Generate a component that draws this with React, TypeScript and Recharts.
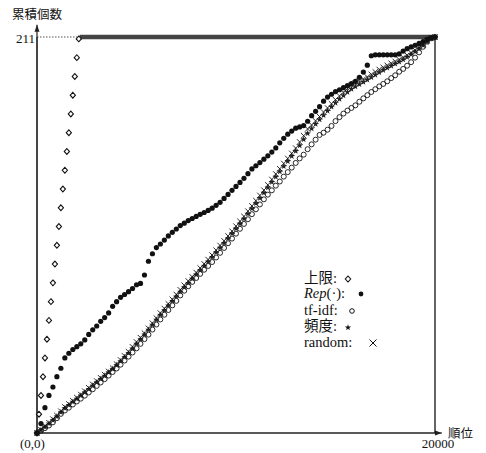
import React from 'react';
import { ComposedChart, Scatter, Line, XAxis, YAxis, ReferenceLine } from 'recharts';

const FONT = "'Liberation Serif', 'Noto Sans CJK JP', serif";

// sampled ranks (x)
const RANKS = [
  0, 200, 400, 600, 800, 1000, 1200, 1400, 1600, 1800,
  2000, 2200, 2400, 2600, 2800, 3000, 3200, 3400, 3600, 3800,
  4000, 4200, 4400, 4600, 4800, 5000, 5200, 5400, 5600, 5800,
  6000, 6200, 6400, 6600, 6800, 7000, 7200, 7400, 7600, 7800,
  8000, 8200, 8400, 8600, 8800, 9000, 9200, 9400, 9600, 9800,
  10000, 10200, 10400, 10600, 10800, 11000, 11200, 11400, 11600, 11800,
  12000, 12200, 12400, 12600, 12800, 13000, 13200, 13400, 13600, 13800,
  14000, 14200, 14400, 14600, 14800, 15000, 15200, 15400, 15600, 15800,
  16000, 16200, 16400, 16600, 16800, 17000, 17200, 17400, 17600, 17800,
  18000, 18200, 18400, 18600, 18800, 19000, 19200, 19400, 19600, 19800,
  20000,
];

const REP = [
  0, 5, 13.5, 20, 24.5, 30, 34.5, 40, 42.5, 44.5,
  46, 47.5, 49.6, 52.5, 55, 57, 59.5, 61.5, 64, 67.5,
  70, 72.3, 73.8, 75.3, 77, 79, 79.7, 84.2, 91.5, 95.5,
  98.8, 100.7, 102.8, 105, 106.9, 108.7, 110.5, 111.8, 113.2, 114.3,
  115.4, 116.5, 117.5, 118.6, 119.8, 121.3, 122.9, 125, 127.1, 129.3,
  131.4, 133.5, 135.7, 138.2, 140.7, 142.4, 144.1, 145.9, 147.7, 149.7,
  151.9, 154.6, 157, 159.2, 160.9, 162.4, 163.1, 163.8, 166.1, 169.1,
  171.4, 173.9, 176.8, 179, 180.5, 181.9, 182.9, 184, 185.1, 186.2,
  187.4, 189.5, 192.3, 196, 201, 201.5, 201.5, 201.5, 201.5, 201.5,
  201.5, 202, 203.5, 204.8, 205.7, 206.6, 207.6, 208.6, 209.7, 210.6,
  211,
];

const TFIDF = [
  0, 1.2, 2.6, 4, 5.7, 7.9, 10.2, 12, 13.5, 15.2,
  16.8, 18.3, 19.9, 21.6, 23.3, 25.1, 26.9, 28.7, 30.6, 32.5,
  34.4, 36.4, 38.6, 40.7, 42.9, 45.1, 47.5, 50, 52.4, 55.1,
  57.8, 60.5, 63, 65.5, 68, 70.4, 73.3, 75.8, 78.2, 80.5,
  82.6, 84.8, 87, 89, 91.1, 93.5, 96, 98.6, 101.1, 103.6,
  106.2, 108.8, 111.4, 113.9, 116.6, 119.2, 121.8, 124.5, 127, 129.3,
  131.8, 134, 136.6, 139, 141.4, 143.9, 146.3, 148.3, 151.2, 153.8,
  156.3, 158.8, 160, 161.6, 163.6, 166.2, 168.3, 170.2, 171.8, 173.2,
  174.6, 176.5, 178.3, 180, 181.7, 183.2, 184.7, 186, 187.4, 189.1,
  190.6, 192.5, 194, 195.7, 197.6, 200, 202.8, 205.8, 208.5, 210.3,
  211,
];

const FREQ = [
  0, 1.5, 3.2, 5, 6.8, 8.8, 11, 13.2, 14.9, 16.6,
  18.2, 19.9, 21.6, 23.4, 25.2, 27, 28.8, 30.5, 32.3, 34.1,
  36.1, 38.2, 40.4, 42.6, 45, 47.5, 49.9, 52.4, 55, 57.6,
  60.3, 62.9, 65.4, 67.9, 70.3, 72.7, 75.2, 77.6, 79.9, 82.2,
  84.4, 86.7, 89, 91.3, 93.7, 96.2, 98.7, 101.2, 103.7, 106.3,
  108.9, 111.5, 114.1, 116.8, 119.6, 122.4, 125.2, 128, 130.8, 133.7,
  136.5, 139.3, 142.1, 144.8, 147.5, 150.2, 153.2, 156.4, 159.6, 162.2,
  164.6, 167, 169.3, 171.6, 173.8, 175.9, 177.9, 179.8, 181.6, 183.3,
  184.6, 185.8, 187, 188.2, 189.5, 190.8, 192.1, 193.3, 194.5, 195.6,
  196.7, 197.8, 199, 200.3, 201.7, 203.2, 204.8, 206.5, 208.4, 210.2,
  211,
];

const RANDOM = [
  0, 1.8, 3.6, 5.5, 7.4, 9.3, 11.6, 13.9, 15.5, 17.2,
  18.9, 20.5, 22.3, 24.1, 25.9, 27.7, 29.4, 31.1, 32.8, 34.6,
  36.7, 38.9, 41.1, 43.3, 45.9, 48.5, 50.8, 53.2, 55.8, 58.5,
  61.2, 63.9, 66.3, 68.8, 71.2, 73.8, 76.3, 78.7, 81, 83.2,
  85.5, 87.9, 90.1, 92.4, 94.8, 97.4, 99.9, 102.4, 105, 107.5,
  110.2, 112.8, 115.4, 118.2, 121, 123.8, 126.6, 129.4, 132.2, 135.1,
  138, 140.8, 143.6, 146.3, 149, 151.8, 155.1, 158.4, 162, 164.1,
  166.3, 168.6, 171, 173.2, 175.4, 177.6, 179.6, 181.6, 183.5, 185.3,
  186.4, 187.5, 188.6, 189.7, 191.1, 192.4, 193.7, 194.8, 195.9, 197,
  198, 199, 200.1, 201.3, 202.6, 204, 205.4, 207, 209, 210.5,
  211,
];

// upper bound (上限): rising part, then plateau at 211
const UB_RANKS = [0, 100, 200, 300, 400, 500, 600, 700, 800, 900, 1000, 1100, 1200, 1300, 1400, 1500, 1600, 1700, 1800, 1900, 2000, 2100];
const UB_VALUES = [0, 10, 20, 30, 40, 50, 60, 70, 80, 90, 100, 110, 120, 130, 140, 150, 160, 170, 180, 190, 200, 210];
const UB_PLATEAU_RANKS = [2150, 20000];
const UB_PLATEAU_VALUES = [211, 211];

const X_TICKS = [0, 20000];
const Y_TICKS = [211];
const X_MAX = 20000;
const Y_MAX = 211;

const toPoints = (xs: number[], ys: number[]) => xs.map((x, i) => ({ x, y: ys[i] }));

const repData = toPoints(RANKS, REP);
const tfidfData = toPoints(RANKS, TFIDF);
const freqData = toPoints(RANKS, FREQ);
const randomData = toPoints(RANKS, RANDOM);
const ubData = toPoints(UB_RANKS, UB_VALUES);
const ubPlateau = toPoints(UB_PLATEAU_RANKS, UB_PLATEAU_VALUES);

const INK = '#111';

const diamondPath = (cx: number, cy: number, w: number, h: number) =>
  `M${cx},${cy - h}L${cx + w},${cy}L${cx},${cy + h}L${cx - w},${cy}Z`;

const starPath = (cx: number, cy: number, ro: number, ri: number) => {
  let d = '';
  for (let k = 0; k < 10; k++) {
    const r = k % 2 === 0 ? ro : ri;
    const a = -Math.PI / 2 + (k * Math.PI) / 5;
    d += (k === 0 ? 'M' : 'L') + (cx + r * Math.cos(a)).toFixed(2) + ',' + (cy + r * Math.sin(a)).toFixed(2);
  }
  return d + 'Z';
};

const DiamondShape = (p: any) => (
  <path d={diamondPath(p.cx, p.cy, 2.6, 2.9)} fill="#fff" stroke={INK} strokeWidth={1.1} />
);
const DotShape = (p: any) => <circle cx={p.cx} cy={p.cy} r={2.6} fill={INK} />;
const CircleShape = (p: any) => <circle cx={p.cx} cy={p.cy} r={2.5} fill="none" stroke={INK} strokeWidth={0.9} />;
const StarShape = (p: any) => <path d={starPath(p.cx, p.cy, 3.4, 1.4)} fill="#222" />;
const CrossShape = (p: any) => (
  <g stroke={INK} strokeWidth={0.9}>
    <line x1={p.cx - 2.7} y1={p.cy - 2.7} x2={p.cx + 2.7} y2={p.cy + 2.7} />
    <line x1={p.cx - 2.7} y1={p.cy + 2.7} x2={p.cx + 2.7} y2={p.cy - 2.7} />
  </g>
);

const arrowShape = (dir: 'up' | 'right') => (p: any) => {
  const { x1, y1, x2, y2 } = p;
  const head =
    dir === 'up'
      ? `M${x2},${y2}L${x2 - 2.5},${y2 + 7}L${x2 + 2.5},${y2 + 7}Z`
      : `M${x2},${y2}L${x2 - 7},${y2 - 2.5}L${x2 - 7},${y2 + 2.5}Z`;
  return (
    <g>
      <line x1={x1} y1={y1} x2={x2} y2={y2} stroke="#222" strokeWidth={1.2} />
      <path d={head} fill="#222" />
    </g>
  );
};

const XTick = (p: any) => {
  const v = p.payload.value;
  const label = v === 0 ? '(0,0)' : String(v);
  return (
    <text x={p.x + (v === 0 ? -4.5 : 3)} y={p.y + 13} textAnchor="middle" fontSize={13} fontFamily={FONT} fill={INK}>
      {label}
    </text>
  );
};

const YTick = (p: any) => (
  <text x={p.x} y={p.y + 6} textAnchor="end" fontSize={13} fontFamily={FONT} fill={INK}>
    {p.payload.value}
  </text>
);

const LEGEND_ROWS = [
  { key: 'ub', baseline: 283 },
  { key: 'rep', baseline: 298 },
  { key: 'tfidf', baseline: 315 },
  { key: 'freq', baseline: 331 },
  { key: 'random', baseline: 347 },
];

export default function App() {
  return (
    <div style={{ position: 'absolute', left: 0, top: 0, width: 486, height: 453, background: '#fff' }}>
      <ComposedChart width={486} height={453} margin={{ top: 37, right: 51, bottom: 0, left: 0 }}>
        <XAxis
          dataKey="x"
          type="number"
          domain={[0, X_MAX]}
          ticks={X_TICKS}
          interval={0}
          height={20}
          axisLine={{ stroke: '#222', strokeWidth: 1.2 }}
          tickLine={false}
          tickSize={0}
          tickMargin={2}
          tick={XTick}
        />
        <YAxis
          type="number"
          domain={[0, Y_MAX]}
          ticks={Y_TICKS}
          interval={0}
          width={37}
          axisLine={{ stroke: '#222', strokeWidth: 1.2 }}
          tickLine={false}
          tickSize={0}
          tickMargin={2}
          tick={YTick}
        />
        <ReferenceLine
          segment={[{ x: 0, y: 0 }, { x: 0, y: 217.5 }]}
          ifOverflow="visible"
          shape={arrowShape('up')}
        />
        <ReferenceLine
          segment={[{ x: 0, y: 0 }, { x: 20350, y: 0 }]}
          ifOverflow="visible"
          shape={arrowShape('right')}
        />
        <ReferenceLine x={X_MAX} stroke={INK} strokeWidth={1.3} />
        <ReferenceLine
          segment={[{ x: 0, y: Y_MAX }, { x: 2050, y: Y_MAX }]}
          stroke="#444"
          strokeWidth={0.9}
          strokeDasharray="1.5 1.5"
        />
        <Line
          data={ubPlateau}
          dataKey="y"
          stroke="#444"
          strokeWidth={4.5}
          dot={false}
          isAnimationActive={false}
        />
        <Scatter data={ubData} dataKey="y" shape={DiamondShape} isAnimationActive={false} />
        <Scatter data={tfidfData} dataKey="y" shape={CircleShape} isAnimationActive={false} />
        <Scatter data={freqData} dataKey="y" shape={StarShape} isAnimationActive={false} />
        <Scatter data={randomData} dataKey="y" shape={CrossShape} isAnimationActive={false} />
        <Scatter data={repData} dataKey="y" shape={DotShape} isAnimationActive={false} />
      </ComposedChart>
      <svg
        width={486}
        height={453}
        style={{ position: 'absolute', left: 0, top: 0, pointerEvents: 'none' }}
        fontFamily={FONT}
      >
        <text x={12} y={19} fontSize={12.5} fill={INK}>累積個数</text>
        <text x={448} y={438} fontSize={12.5} fill={INK}>順位</text>
        <g fontSize={14.5} fill={INK}>
          <text x={304} y={LEGEND_ROWS[0].baseline}>上限:</text>
          <path d={diamondPath(348, 279, 2.7, 3)} fill="#fff" stroke={INK} strokeWidth={1.1} />
          <text x={304} y={LEGEND_ROWS[1].baseline}>
            <tspan fontStyle="italic">Rep</tspan>(·):
          </text>
          <circle cx={361} cy={294} r={2.4} fill={INK} />
          <text x={304} y={LEGEND_ROWS[2].baseline}>tf-idf:</text>
          <circle cx={352} cy={311} r={2.3} fill="none" stroke={INK} strokeWidth={1} />
          <text x={304} y={LEGEND_ROWS[3].baseline}>頻度:</text>
          <path d={starPath(348, 327.5, 3.3, 1.3)} fill={INK} />
          <text x={304} y={LEGEND_ROWS[4].baseline}>random:</text>
          <g stroke={INK} strokeWidth={1}>
            <line x1={369.5} y1={339.5} x2={376.5} y2={346.5} />
            <line x1={369.5} y1={346.5} x2={376.5} y2={339.5} />
          </g>
        </g>
      </svg>
    </div>
  );
}
